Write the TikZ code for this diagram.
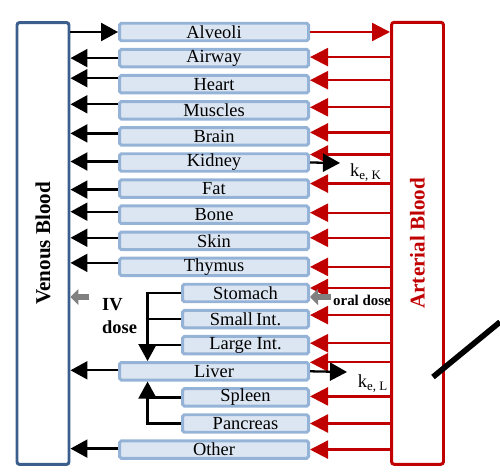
\documentclass[tikz,border=0pt]{standalone}
\usepackage{fontspec}
\setmainfont{Liberation Serif}
\usetikzlibrary{arrows.meta, calc}
\definecolor{venblue}{HTML}{3B5E8C}
\definecolor{artred}{HTML}{C00000}
\definecolor{organfill}{HTML}{DCE6F2}
\definecolor{organline}{HTML}{95B3D7}
\definecolor{dosegray}{HTML}{808080}
\tikzset{
  organ/.style={draw=organline, fill=organfill, line width=1.7pt, rounded corners=1pt,
    minimum height=0.35cm, inner sep=0pt, font=\fontsize{10.5}{12}\selectfont},
  wide/.style={organ, minimum width=3.78cm},
  narrow/.style={organ, minimum width=2.52cm},
  blood/.style={line width=1.7pt, rounded corners=1.5pt, minimum width=1.04cm, minimum height=8.84cm},
  venflow/.style={-{Triangle[length=0.34cm, width=0.36cm]}, line width=1.3pt},
  artflow/.style={-{Triangle[length=0.36cm, width=0.36cm]}, line width=1.3pt, color=artred},
  dosein/.style={-{Triangle[length=0.16cm, width=0.32cm]}, line width=3.4pt, color=dosegray},
  every node/.append style={font=\fontsize{10.5}{13}\selectfont}
}

\begin{document}
\begin{tikzpicture}[x=0.02cm, y=-0.02cm]
\useasboundingbox (0,0) rectangle (500,476);
\node[blood, draw=venblue] (ven) at (43,243.5) {};
\node[rotate=90, font=\fontsize{12}{14}\selectfont\bfseries] (venlbl) at (ven) {Venous Blood};
\node[blood, draw=artred] (art) at (417.5,243.3) {};
\node[rotate=90, text=artred, font=\fontsize{12}{14}\selectfont\bfseries] (artlbl) at (art) {Arterial Blood};
\foreach \i/\w/\n/\t in {0/wide/alv/Alveoli, 1/wide/air/Airway, 2/wide/hrt/Heart, 3/wide/mus/Muscles,
    4/wide/brn/Brain, 5/wide/kid/Kidney, 6/wide/fat/Fat, 7/wide/bon/Bone, 8/wide/skn/Skin,
    9/wide/thy/Thymus, 10/narrow/sto/Stomach, 11/narrow/sin/{Small\,Int.}, 12/narrow/lin/Large Int.,
    13/wide/liv/Liver, 14/narrow/spl/Spleen, 15/narrow/pan/Pancreas, 16/wide/oth/Other}
  \node[\w, anchor=east] (\n) at (310,{32+26.1*\i}) {\t};
\draw[venflow] (ven.east |- alv.west) -- (alv.west);
\draw[artflow] (alv.east) -- (alv.east -| art.west);
\foreach \n/\d in {air/0, hrt/-6, mus/-6, brn/-3, kid/-1, fat/1, bon/-3, skn/-3, thy/-4, liv/-1, oth/-1} {
  \coordinate (b\n) at ($(\n.west)+(0,\d)$);
  \draw[venflow] (b\n) -- (b\n -| ven.east);
}
\foreach \n/\d in {air/-1, hrt/-4, mus/-3, brn/-4, kid/-8, fat/-5, bon/-2, skn/-3, thy/0, sto/-5,
    sin/-4, lin/-2, liv/-9, spl/-1, pan/0, oth/0} {
  \coordinate (r\n) at ($(\n.east)+(0,\d)$);
  \draw[artflow] (r\n -| art.west) -- (r\n);
}
\coordinate (gut) at ([xshift=0.59cm]liv.north west);
\coordinate (pit) at ([xshift=0.59cm]liv.south west);
\draw[venflow] (sto.west) -| (gut);
\draw[line width=1.3pt] (sin.west) -- (sin.west -| gut);
\draw[line width=1.3pt] (lin.west) -- (lin.west -| gut);
\draw[venflow] (pan.west) -| (pit);
\draw[line width=1.3pt] (spl.west) -- (spl.west -| pit);
\coordinate (kout) at (340,163);
\draw[venflow] (kid.east) -- (kout);
\node (kek) at (366,173) {k\textsubscript{e, K}};
\coordinate (lout) at (347,372);
\draw[venflow] (liv.east) -- (lout);
\node (kel) at (373,384) {k\textsubscript{e, L}};
\coordinate (ivin) at (89,297);
\draw[dosein] (ivin) -- (ivin -| ven.east);
\node[align=left, anchor=west, font=\fontsize{10.5}{13}\selectfont\bfseries] (ivd) at (96,316) {IV\\dose};
\coordinate (orin) at (331,297);
\draw[dosein] (orin) -- (orin -| sto.east);
\node[font=\fontsize{8.5}{10}\selectfont\bfseries] (oral) at (362,300) {oral dose};
\draw[line width=3.2pt] (433,377) -- (500,322);
\end{tikzpicture}
\end{document}
